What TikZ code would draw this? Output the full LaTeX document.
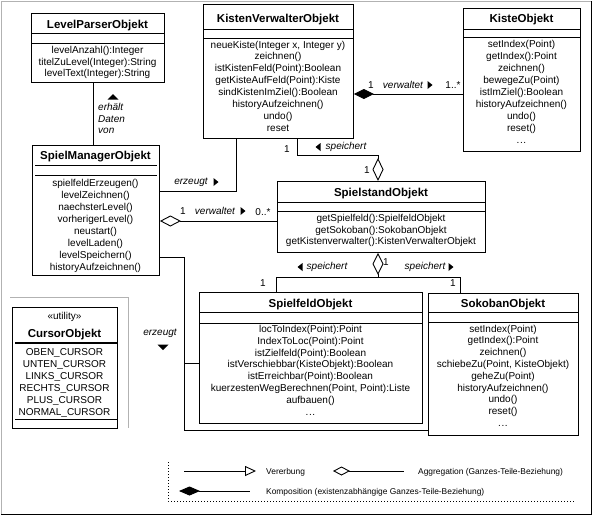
\documentclass[tikz,border=0pt]{standalone}
\usepackage{fontspec}
\setmainfont{Liberation Sans}
\usetikzlibrary{arrows.meta}
\tikzset{
  triR/.pic={\fill (-2.5,-4) -- (2.5,0) -- (-2.5,4) -- cycle;},
  triL/.pic={\fill (2.5,-4) -- (-2.5,0) -- (2.5,4) -- cycle;},
  triU/.pic={\fill (-5.5,2.5) -- (0,-3) -- (5.5,2.5) -- cycle;},
  triD/.pic={\fill (-5.5,-2.5) -- (0,3) -- (5.5,-2.5) -- cycle;},
}
\newcommand{\dotsx}{.\kern0.6pt.\kern0.6pt.}
\begin{document}
\begin{tikzpicture}[x=1pt,y=-1pt,
  ln/.style={line width=0.9pt},
  box/.style={draw, line width=0.9pt, inner sep=0pt, anchor=north west},
  title/.style={font=\fontsize{11.5}{13}\selectfont\bfseries, inner sep=0pt, anchor=base},
  meth/.style={font=\fontsize{10}{12}\selectfont, inner sep=0pt, anchor=base},
  lab/.style={font=\fontsize{10}{12}\selectfont\itshape, inner sep=0pt},
  num/.style={font=\fontsize{10}{12}\selectfont, inner sep=0pt},
  leg/.style={font=\fontsize{8.4}{10}\selectfont, inner sep=0pt, anchor=base west},
  aggS/.style={ln, {Diamond[open,length=21pt,width=11pt]}-},
  aggV/.style={ln, -{Diamond[open,length=23pt,width=11pt]}},
  aggVS/.style={ln, {Diamond[open,length=22pt,width=11pt]}-},
  compS/.style={ln, {Diamond[length=20pt,width=10pt]}-},
]
\useasboundingbox (0,0) rectangle (595,517);
% outer frame
\draw[gray!60, line width=1pt] (1,514) -- (1,1) -- (591,1);
\draw[line width=1pt] (591,1) -- (591,514) -- (1,514);

% ---------- LevelParserObjekt
\node[box, minimum width=133pt, minimum height=69pt] (lp) at (31,13) {};
\draw[ln] ([yshift=-20pt]lp.north west) -- ([yshift=-20pt]lp.north east);
\draw[ln] ([yshift=-30pt]lp.north west) -- ([yshift=-30pt]lp.north east);
\node[title] (lpT) at (97.5,28.5) {LevelParserObjekt};
\foreach \t [count=\i] in {levelAnzahl():Integer, titelZuLevel(Integer):String, levelText(Integer):String}
  \node[meth] (lp-\i) at (97.5,{53.5+11.5*(\i-1)}) {\t};

% ---------- KistenVerwalterObjekt
\node[box, minimum width=150pt, minimum height=134pt] (kv) at (203,4) {};
\draw[ln] ([yshift=-25pt]kv.north west) -- ([yshift=-25pt]kv.north east);
\draw[ln] ([yshift=-34pt]kv.north west) -- ([yshift=-34pt]kv.north east);
\node[title] (kvT) at (278,22.5) {KistenVerwalterObjekt};
\foreach \t [count=\i] in {{neueKiste(Integer x, Integer y)}, zeichnen(), istKistenFeld(Point):Boolean, getKisteAufFeld(Point):Kiste, sindKistenImZiel():Boolean, historyAufzeichnen(), undo(), reset}
  \node[meth] (kv-\i) at (278,{48+11.9*(\i-1)}) {\t};

% ---------- KisteObjekt
\node[box, minimum width=117pt, minimum height=143pt] (ks) at (463,8) {};
\draw[ln] ([yshift=-21pt]ks.north west) -- ([yshift=-21pt]ks.north east);
\draw[ln] ([yshift=-29pt]ks.north west) -- ([yshift=-29pt]ks.north east);
\node[title] (ksT) at (521.5,22.5) {KisteObjekt};
\foreach \t [count=\i] in {setIndex(Point), getIndex():Point, zeichnen(), bewegeZu(Point), istImZiel():Boolean, historyAufzeichnen(), undo(), reset(), \dotsx}
  \node[meth] (ks-\i) at (521.5,{47+12*(\i-1)}) {\t};

% ---------- SpielManagerObjekt
\node[box, minimum width=127pt, minimum height=130pt] (sm) at (32,145) {};
\draw[ln] ([xshift=3pt,yshift=-20pt]sm.north west) -- ([xshift=-3pt,yshift=-20pt]sm.north east);
\draw[ln] ([xshift=3pt,yshift=-30pt]sm.north west) -- ([xshift=-3pt,yshift=-30pt]sm.north east);
\node[title] (smT) at (95.5,159) {SpielManagerObjekt};
\foreach \t [count=\i] in {spielfeldErzeugen(), levelZeichnen(), naechsterLevel(), vorherigerLevel(), neustart(), levelLaden(), levelSpeichern(), historyAufzeichnen()}
  \node[meth] (sm-\i) at (95.5,{186+12*(\i-1)}) {\t};

% ---------- SpielstandObjekt
\node[box, minimum width=208pt, minimum height=71pt] (ss) at (277,181) {};
\draw[ln] ([yshift=-21pt]ss.north west) -- ([yshift=-21pt]ss.north east);
\draw[ln] ([yshift=-30pt]ss.north west) -- ([yshift=-30pt]ss.north east);
\node[title] (ssT) at (381,196.5) {SpielstandObjekt};
\foreach \t [count=\i] in {getSpielfeld():SpielfeldObjekt, getSokoban():SokobanObjekt, getKistenverwalter():KistenVerwalterObjekt}
  \node[meth] (ss-\i) at (381,{221.5+11.5*(\i-1)}) {\t};

% ---------- SpielfeldObjekt
\node[box, minimum width=223pt, minimum height=131pt] (sf) at (199,292) {};
\draw[ln] ([yshift=-20pt]sf.north west) -- ([yshift=-20pt]sf.north east);
\draw[ln] ([yshift=-31pt]sf.north west) -- ([yshift=-31pt]sf.north east);
\node[title] (sfT) at (310.5,307.5) {SpielfeldObjekt};
\foreach \t [count=\i] in {locToIndex(Point):Point, IndexToLoc(Point):Point, istZielfeld(Point):Boolean, istVerschiebbar(KisteObjekt):Boolean, istErreichbar(Point):Boolean, {kuerzestenWegBerechnen(Point, Point):Liste}, aufbauen(), \dotsx}
  \node[meth] (sf-\i) at (310.5,{332.5+11.8*(\i-1)}) {\t};

% ---------- SokobanObjekt
\node[box, minimum width=150pt, minimum height=142pt] (sb) at (428,293) {};
\draw[ln] ([yshift=-19pt]sb.north west) -- ([yshift=-19pt]sb.north east);
\draw[ln] ([yshift=-29pt]sb.north west) -- ([yshift=-29pt]sb.north east);
\node[title] (sbT) at (503,307.5) {SokobanObjekt};
\foreach \t [count=\i] in {setIndex(Point), getIndex():Point, zeichnen(), {schiebeZu(Point, KisteObjekt)}, geheZu(Point), historyAufzeichnen(), undo(), reset(), \dotsx}
  \node[meth] (sb-\i) at (503,{332+11.8*(\i-1)}) {\t};

% ---------- CursorObjekt
\draw[gray!60, line width=1pt] (10,297) -- (128,297) -- (128,428);
\node[box, minimum width=105pt, minimum height=121pt] (co) at (12,307) {};
\draw[line width=2pt] ([xshift=3pt,yshift=-36pt]co.north west) -- ([xshift=-1pt,yshift=-36pt]co.north east);
\draw[ln] ([xshift=3pt,yshift=-112pt]co.north west) -- ([xshift=-1pt,yshift=-112pt]co.north east);
\node[meth] (coS) at (64.5,319.5) {«utility»};
\node[title] (coT) at (64.5,337.5) {CursorObjekt};
\foreach \t [count=\i] in {OBEN\_CURSOR, UNTEN\_CURSOR, LINKS\_CURSOR, RECHTS\_CURSOR, PLUS\_CURSOR, NORMAL\_CURSOR}
  \node[meth] (co-\i) at (64.5,{355.8+11.9*(\i-1)}) {\t};

% ---------- helper coordinates
\coordinate (xLP) at (93,0);
\coordinate (yKV) at (0,94);
\coordinate (yErz) at (0,191);
\coordinate (xErz) at (236,0);
\coordinate (yVer) at (0,221);
\coordinate (c1) at (297,155);
\coordinate (c2) at (378,155);
\coordinate (c3) at (378,277);
\coordinate (c4) at (276,277);
\coordinate (c5) at (460,277);
\coordinate (c6) at (184,257);
\coordinate (c7) at (184,363);
\coordinate (yBot) at (0,430);

% ---------- connectors
\draw[ln] (lp.south -| xLP) -- (sm.north -| xLP);
\draw[compS] (kv.east |- yKV) -- (ks.west |- yKV);
\draw[ln] (sm.east |- yErz) -| (kv.south -| xErz);
\draw[aggS] (sm.east |- yVer) -- (ss.west |- yVer);
\draw[aggV] (kv.south -| c1) -- (c1) -- (c2) -- (ss.north -| c2);
\draw[aggVS] (ss.south -| c3) -- (c3);
\draw[ln] (sf.north -| c4) -- (c4) -- (c5) -- (sb.north -| c5);
\draw[ln] (sm.east |- c6) -- (c6) |- (sb.west |- yBot);
\draw[ln] (c7) -- (sf.west |- c7);

% ---------- connector labels
\pic at (113,97) {triU};
\node[lab, anchor=west] (l1) at (98,107) {erhält};
\node[lab, anchor=west] (l2) at (98,119) {Daten};
\node[lab, anchor=west] (l3) at (98,131) {von};

\node[num] (n1) at (371,85) {1};
\node[lab] (l4) at (403,85) {verwaltet};
\pic at (430,85) {triR};
\node[num] (n2) at (453,85) {1..*};

\node[lab] (l5) at (191,182) {erzeugt};
\pic at (216,182) {triR};

\node[num] (n3) at (183,211) {1};
\node[lab] (l6) at (215,211) {verwaltet};
\pic at (243,211) {triR};
\node[num] (n4) at (263,212) {0..*};

\node[num] (n5) at (287,149) {1};
\pic at (318,147) {triL};
\node[lab] (l7) at (346,147) {speichert};
\node[num] (n6) at (367,170) {1};

\pic at (300,267) {triL};
\node[lab] (l8) at (327,267) {speichert};
\node[num] (n7) at (386,262) {1};
\node[lab] (l9) at (425,267) {speichert};
\pic at (451,267) {triR};
\node[num] (n8) at (263,283) {1};
\node[num] (n9) at (453,283) {1};

\node[lab] (l10) at (160,333) {erzeugt};
\pic at (163,347) {triD};

% ---------- legend
\draw[ln, dash pattern=on 1pt off 2pt] (168,462) -- (168,501) -- (575,501);
\coordinate (g1) at (184,471);
\coordinate (g2) at (256,471);
\coordinate (g3) at (333,471);
\coordinate (g4) at (404,471);
\coordinate (g5) at (179,491);
\coordinate (g6) at (250,491);
\draw[ln, -{Triangle[open,length=11pt,width=10pt]}] (g1) -- (g2);
\draw[ln, {Diamond[open,length=17pt,width=9pt]}-] (g3) -- (g4);
\draw[ln, {Diamond[length=21pt,width=9pt]}-] (g5) -- (g6);
\node[leg] (t1) at (266,474) {Vererbung};
\node[leg] (t2) at (418,474) {Aggregation (Ganzes-Teile-Beziehung)};
\node[leg] (t3) at (266,494) {Komposition (existenzabhängige Ganzes-Teile-Beziehung)};
\end{tikzpicture}
\end{document}
